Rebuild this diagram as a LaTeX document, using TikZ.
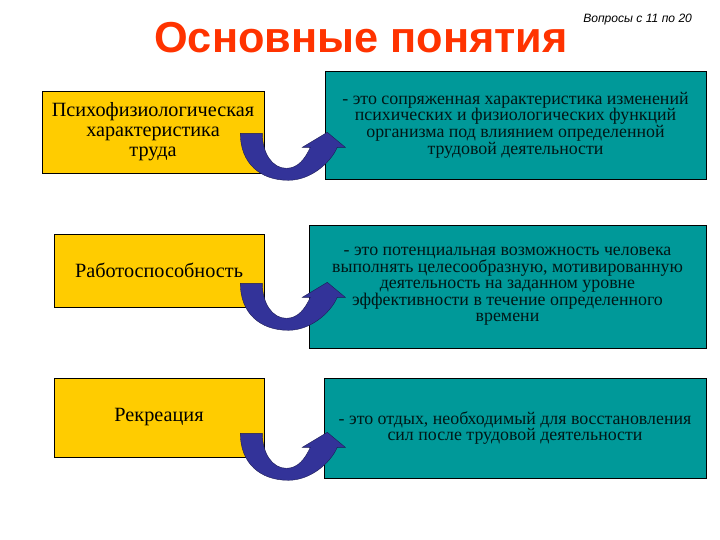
\documentclass[tikz,border=0pt]{standalone}
\usepackage{xcolor}
\usepackage{fontspec}
\usetikzlibrary{calc}
\setmainfont{Liberation Serif}
\newfontfamily\headfont{Liberation Sans}
\definecolor{termyellow}{HTML}{FFCC00}
\definecolor{defnteal}{HTML}{009999}
\definecolor{arrowblue}{HTML}{333399}
\definecolor{titlered}{HTML}{FF3300}
\tikzset{
  term/.style={draw=black, line width=0.016cm, fill=termyellow, align=center,
    inner sep=0pt, font=\fontsize{14.4}{14.2}\selectfont},
  defn/.style={draw=black, line width=0.016cm, fill=defnteal, align=center,
    inner sep=0pt, text=black!85!defnteal, font=\fontsize{12.7}{11.8}\selectfont},
  uarrow/.pic={
    \draw [fill=arrowblue, draw=arrowblue!55!black, line width=0.01cm, x=0.025cm, y=-0.025cm]
      (0,0) .. controls (0,30) and (20,47) .. (48,47)
      .. controls (70,47) and (90,30) .. (97,14) -- (105,14) -- (87,-1) -- (62,14) -- (70,14)
      .. controls (65,25) and (58,35) .. (46,35)
      .. controls (32,35) and (22,20) .. (22,0) -- cycle;
  }
}

\begin{document}
\begin{tikzpicture}
                        \useasboundingbox (0,0) rectangle (18.000000,13.500000);
                        
                        % Drawing title
                        \node [anchor=base west, inner sep=0pt, text=titlered,
                          font=\headfont\bfseries\fontsize{30.8}{36}\selectfont] (title) at (3.850000,12.175000) {Основные понятия};%
                        \node [anchor=base west, inner sep=0pt,
                          font=\headfont\itshape\fontsize{8.6}{10}\selectfont] (questions) at (14.575000,12.925000) {Вопросы с 11 по 20};%
                        
                        % Drawing terms
                        \node [term, minimum width=5.550000cm, minimum height=2.050000cm] (psy) at (3.825000,10.200000)
                          {Психофизиологическая\\ характеристика\\ труда};%
                        \node [term, minimum width=5.250000cm, minimum height=1.825000cm] (work) at (3.975000,6.737500)
                          {Работоспособность};%
                        \node [term, minimum width=5.250000cm, minimum height=1.975000cm] (rec) at (3.975000,3.062500)
                          {Рекреация};%
                        
                        % Drawing definitions
                        \node [defn, minimum width=9.525000cm, minimum height=2.700000cm] (psydef) at (12.887500,10.375000)
                          {- это сопряженная характеристика изменений\\ психических и физиологических функций\\ организма под влиянием определенной\\ трудовой деятельности};%
                        \node [defn, minimum width=9.925000cm, minimum height=3.075000cm] (workdef) at (12.687500,6.337500)
                          {- это потенциальная возможность человека\\ выполнять целесообразную, мотивированную\\ деятельность на заданном уровне\\ эффективности в течение определенного\\ времени};%
                        \node [defn, minimum width=9.550000cm, minimum height=2.500000cm] (recdef) at (12.875000,2.800000)
                          {- это отдых, необходимый для восстановления\\ сил после трудовой деятельности};%
                        
                        % Drawing curved arrows
                        \pic at ($(psy.south east)+(-0.600000,1.000000)$) {uarrow};%
                        \pic at ($(work.south east)+(-0.600000,0.600000)$) {uarrow};%
                        \pic at ($(rec.south east)+(-0.600000,0.600000)$) {uarrow};%
                    \end{tikzpicture}
\end{document}
